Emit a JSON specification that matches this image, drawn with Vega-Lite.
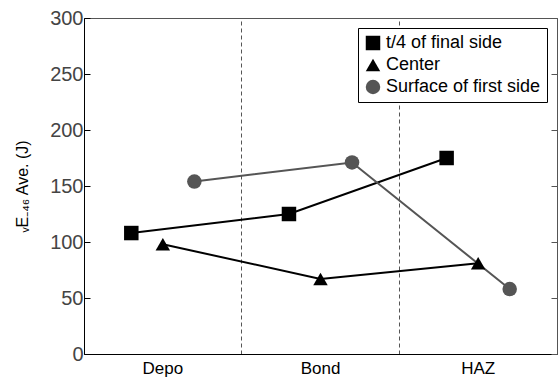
{
  "$schema": "https://vega.github.io/schema/vega-lite/v6.json",
  "width": 473,
  "height": 336,
  "autosize": {"type": "none"},
  "padding": {"left": 84, "top": 18, "right": 1, "bottom": 25},
  "config": {
    "font": "Liberation Sans",
    "view": {"stroke": "#555", "strokeWidth": 1}
  },
  "data": {
    "values": [
      {"loc": "Depo", "series": "t/4 of final side", "value": 108},
      {"loc": "Bond", "series": "t/4 of final side", "value": 125},
      {"loc": "HAZ", "series": "t/4 of final side", "value": 175},
      {"loc": "Depo", "series": "Center", "value": 98},
      {"loc": "Bond", "series": "Center", "value": 67},
      {"loc": "HAZ", "series": "Center", "value": 81},
      {"loc": "Depo", "series": "Surface of first side", "value": 154},
      {"loc": "Bond", "series": "Surface of first side", "value": 171},
      {"loc": "HAZ", "series": "Surface of first side", "value": 58}
    ]
  },
  "resolve": {"axis": {"x": "independent", "y": "independent"}},
  "layer": [
    {
      "mark": {"type": "line", "strokeWidth": 2},
      "encoding": {
        "x": {
          "field": "loc", "type": "nominal", "sort": ["Depo", "Bond", "HAZ"],
          "scale": {"paddingInner": 0, "paddingOuter": 0},
          "axis": {
            "orient": "top", "title": null, "labels": false, "ticks": false, "domain": false,
            "grid": true, "bandPosition": 0, "gridDash": [4, 3], "gridColor": "#555", "gridWidth": 1,
            "gridOpacity": {"condition": {"test": "datum.value === 'Depo'", "value": 0}, "value": 1}
          }
        },
        "xOffset": {
          "field": "series", "type": "nominal",
          "sort": ["t/4 of final side", "Center", "Surface of first side"],
          "scale": {"type": "band", "paddingInner": 0, "paddingOuter": 1}
        },
        "y": {
          "field": "value", "type": "quantitative",
          "scale": {"domain": [0, 300]},
          "axis": {
            "orient": "right", "title": null, "labels": false, "grid": false,
            "values": [0, 50, 100, 150, 200, 250, 300],
            "tickSize": -6, "tickColor": "#555", "domainColor": "#555"
          }
        },
        "detail": {"field": "series", "type": "nominal"},
        "stroke": {
          "condition": {"test": "datum.series === 'Surface of first side'", "value": "#555555"},
          "value": "#000000"
        }
      }
    },
    {
      "mark": {"type": "point", "filled": true, "opacity": 1, "size": 210},
      "encoding": {
        "x": {
          "field": "loc", "type": "nominal", "sort": ["Depo", "Bond", "HAZ"],
          "axis": {
            "title": null, "ticks": false, "grid": false, "labelAngle": 0,
            "labelFontSize": 17, "labelColor": "#000", "labelPadding": 6,
            "domainColor": "#000", "domainWidth": 1
          }
        },
        "xOffset": {
          "field": "series", "type": "nominal",
          "sort": ["t/4 of final side", "Center", "Surface of first side"],
          "scale": {"type": "band", "paddingInner": 0, "paddingOuter": 1}
        },
        "y": {
          "field": "value", "type": "quantitative",
          "axis": {
            "orient": "left", "title": "ᵥE₋₄₆ Ave. (J)", "titleFontSize": 16, "titleFontWeight": "normal",
            "titleColor": "#000000", "titlePadding": 19,
            "grid": false, "values": [0, 50, 100, 150, 200, 250, 300],
            "tickSize": -6, "tickColor": "#000", "domainColor": "#000",
            "labelFontSize": 20, "labelColor": "#444", "labelPadding": 7
          }
        },
        "color": {
          "field": "series", "type": "nominal",
          "scale": {"domain": ["t/4 of final side", "Center", "Surface of first side"], "range": ["#000000", "#000000", "#555555"]},
          "legend": {
            "title": null, "orient": "top-right", "offset": 10,
            "strokeColor": "#000", "fillColor": "#fff", "padding": 6,
            "labelFontSize": 18, "labelColor": "#000", "symbolSize": 210, "rowPadding": 4,
            "labelOffset": 4,
            "labelExpr": "datum.label === 't/4 of final side' ? '\u00a0 t/4 of final side' : datum.label"
          }
        },
        "shape": {
          "field": "series", "type": "nominal",
          "scale": {"domain": ["t/4 of final side", "Center", "Surface of first side"], "range": ["square", "triangle-up", "circle"]},
          "legend": {
            "title": null, "orient": "top-right", "offset": 10,
            "strokeColor": "#000", "fillColor": "#fff", "padding": 6,
            "labelFontSize": 18, "labelColor": "#000", "symbolSize": 210, "rowPadding": 4,
            "labelOffset": 4,
            "labelExpr": "datum.label === 't/4 of final side' ? '\u00a0 t/4 of final side' : datum.label"
          }
        }
      }
    }
  ]
}
